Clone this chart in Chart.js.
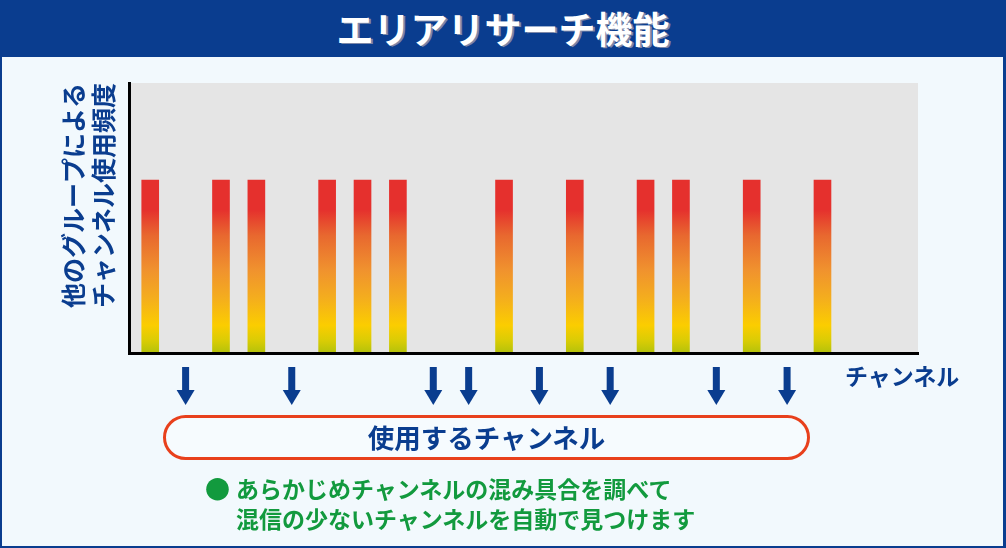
<!DOCTYPE html>
<html lang="ja">
<head>
  <meta charset="UTF-8">
  <title>エリアリサーチ機能</title>
  <script src="https://cdn.jsdelivr.net/npm/chart.js"></script>
  <style>
    html, body { margin: 0; padding: 0; background: #f2f9fd; }
    #frame {
      position: relative; width: 1006px; height: 548px; overflow: hidden;
      background: #f2f9fd;
      font-family: "Noto Sans CJK JP", "Noto Sans", sans-serif;
      box-shadow: inset 2px 0 0 #0a3d8f, inset -3px 0 0 #0a3d8f, inset 0 -2px 0 #0a3d8f;
    }
    #head {
      position: absolute; left: 0; top: 0; width: 1006px; height: 57px;
      background: #0a3d8f; color: #fff; text-align: center;
      font-size: 37px; font-weight: bold; line-height: 57px;
      text-shadow: 2px 1px 0 #7d88a8;
    }
    #chart { position: absolute; left: 0; top: 0; }
    #xlabel {
      position: absolute; left: 845px; top: 360px;
      color: #0a3d8f; font-size: 23px; font-weight: bold; line-height: 30px;
    }
    #pill {
      position: absolute; left: 163px; top: 415px; width: 647px; height: 45px;
      box-sizing: border-box; border: 3px solid #e8401c; border-radius: 23px;
      background: #f6fbfe; color: #0a3d8f; text-align: center;
      font-size: 26.5px; font-weight: bold; line-height: 38px;
    }
    #note { position: absolute; left: 0; top: 473px; color: #129a3e; font-weight: bold; }
    #note .dot { position: absolute; left: 205px; top: 0; font-size: 25px; line-height: 30px; }
    #note .txt { position: absolute; left: 236px; top: 0; width: 600px; font-size: 23px; line-height: 30px; }
  </style>
</head>
<body>
  <div id="frame">
    <canvas id="chart" width="1006" height="548"></canvas>
    <div id="head">エリアリサーチ機能</div>
    <div id="xlabel">チャンネル</div>
    <div id="pill">使用するチャンネル</div>
    <div id="note">
      <span class="dot">●</span>
      <div class="txt">あらかじめチャンネルの混み具合を調べて<br>混信の少ないチャンネルを自動で見つけます</div>
    </div>
  </div>

  <script>
    // channel numbers and how busy each one is (0 = free)
    const channels = [1, 2, 3, 4, 5, 6, 7, 8, 9, 10, 11, 12, 13, 14, 15, 16, 17, 18, 19, 20];
    const usage    = [64, 0, 64, 64, 0, 64, 64, 64, 0, 0, 64, 0, 64, 0, 64, 64, 0, 64, 0, 64];
    const yTitle = ['他のグループによる', 'チャンネル使用頻度'];
    const navy = '#0a3d8f';
    const family = '"Noto Sans CJK JP", sans-serif';

    // free channels get an arrow under the axis
    const freeChannels = channels.filter((c, i) => usage[i] === 0);

    // gradient for each bar, from its top down to the axis
    function barFill(ctx) {
      const chart = ctx.chart;
      if (!chart.chartArea || !ctx.raw) return '#e5302d';
      const y = chart.scales.y;
      const top = y.getPixelForValue(ctx.raw.y);
      const bottom = y.getPixelForValue(0);
      if (bottom - top < 1) return '#e5302d';
      const g = chart.ctx.createLinearGradient(0, top, 0, bottom);
      g.addColorStop(0, '#e5302d');
      g.addColorStop(0.17, '#e5302d');
      g.addColorStop(0.32, '#e8682f');
      g.addColorStop(0.52, '#f0922e');
      g.addColorStop(0.68, '#f4ad1e');
      g.addColorStop(0.84, '#fbcd00');
      g.addColorStop(0.93, '#d9cc05');
      g.addColorStop(1, '#b3c20a');
      return g;
    }

    const plotBg = {
      id: 'plotBg',
      beforeDraw(chart) {
        const { ctx, chartArea: a } = chart;
        ctx.save();
        ctx.fillStyle = '#e5e5e5';
        ctx.fillRect(a.left, a.top, a.right - a.left, a.bottom - a.top);
        ctx.restore();
      }
    };

    const arrows = {
      id: 'arrows',
      afterDraw(chart) {
        const { ctx, chartArea: a } = chart;
        const xs = chart.scales.x;
        ctx.save();
        ctx.fillStyle = navy;
        freeChannels.forEach(ch => {
          const x = xs.getPixelForValue(ch);
          const b = a.bottom;
          ctx.fillRect(x - 3.5, b + 14, 7, 24);
          ctx.beginPath();
          ctx.moveTo(x - 9, b + 37);
          ctx.lineTo(x + 9, b + 37);
          ctx.lineTo(x, b + 52);
          ctx.closePath();
          ctx.fill();
        });
        ctx.restore();
      }
    };

    new Chart(document.getElementById('chart'), {
      type: 'bar',
      data: {
        datasets: [{
          data: channels.map((c, i) => ({ x: c, y: usage[i] })),
          backgroundColor: barFill,
          borderWidth: 0,
          barThickness: 17
        }]
      },
      options: {
        responsive: false,
        animation: false,
        layout: { padding: { left: 58, top: 83, right: 88, bottom: 195 } },
        plugins: { legend: { display: false }, tooltip: { enabled: false } },
        scales: {
          x: {
            type: 'linear', min: 0.4, max: 22.7, offset: false,
            ticks: { display: false },
            grid: { display: false, drawTicks: false },
            border: { display: true, color: '#000', width: 3, z: 1 }
          },
          y: {
            min: 0, max: 100,
            ticks: { display: false },
            grid: { display: false, drawTicks: false },
            border: { display: true, color: '#000', width: 3, z: 1 },
            title: {
              display: true, text: yTitle, align: 'end', color: navy,
              font: { family: family, size: 25, weight: 'bold', lineHeight: 1.2 },
              padding: { top: 0, bottom: 11 }
            }
          }
        }
      },
      plugins: [plotBg, arrows]
    });
  </script>
</body>
</html>
